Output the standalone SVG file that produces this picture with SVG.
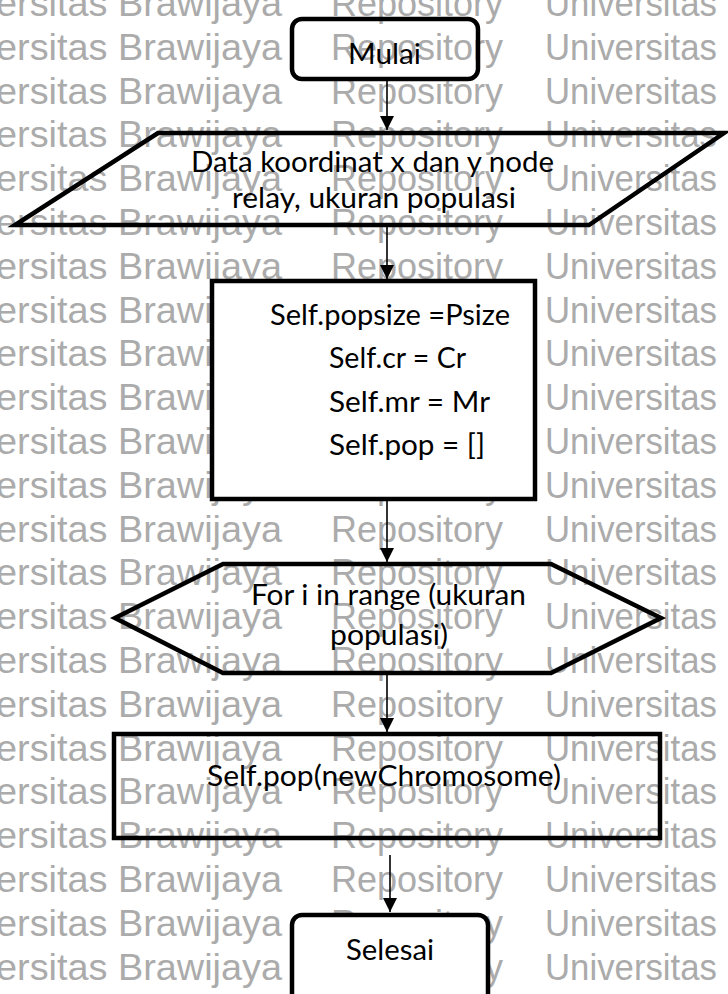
<svg xmlns="http://www.w3.org/2000/svg" xmlns:xlink="http://www.w3.org/1999/xlink" width="728" height="994" viewBox="0 0 728 994">
  <style>
    .wm { font-family: "Liberation Sans", Arial, sans-serif; font-size: 36px; fill: #ababab; }
    .shape { stroke: #000; stroke-width: 4.5; stroke-linejoin: miter; }
    .clear { fill: none; }
    .solid { fill: #fff; }
    .lbl { font-family: Lato, "Open Sans", sans-serif; font-size: 28px; fill: #000; }
    .conn { stroke: #000; stroke-width: 1.6; fill: none; }
  </style>
  <defs>
    <marker id="arrow" markerUnits="userSpaceOnUse" markerWidth="16" markerHeight="16" viewBox="0 0 16 16" refX="14" refY="8" orient="auto">
      <path d="M0,1 L14,8 L0,15 Z" fill="#000"/>
    </marker>
    <g id="wmrow">
      <text class="wm" x="-4" y="0" textLength="286" lengthAdjust="spacingAndGlyphs">ersitas Brawijaya</text>
      <text class="wm" x="331" y="0" textLength="172" lengthAdjust="spacingAndGlyphs">Repository</text>
      <text class="wm" x="545" y="0" textLength="172" lengthAdjust="spacingAndGlyphs">Universitas</text>
    </g>
  </defs>
  <rect x="0" y="0" width="728" height="994" fill="#fff"/>
  <g id="watermark">
    <use xlink:href="#wmrow" href="#wmrow" y="16"/>
    <use xlink:href="#wmrow" href="#wmrow" y="59.8"/>
    <use xlink:href="#wmrow" href="#wmrow" y="103.6"/>
    <use xlink:href="#wmrow" href="#wmrow" y="147.4"/>
    <use xlink:href="#wmrow" href="#wmrow" y="191.2"/>
    <use xlink:href="#wmrow" href="#wmrow" y="235"/>
    <use xlink:href="#wmrow" href="#wmrow" y="278.8"/>
    <use xlink:href="#wmrow" href="#wmrow" y="322.6"/>
    <use xlink:href="#wmrow" href="#wmrow" y="366.4"/>
    <use xlink:href="#wmrow" href="#wmrow" y="410.2"/>
    <use xlink:href="#wmrow" href="#wmrow" y="454"/>
    <use xlink:href="#wmrow" href="#wmrow" y="497.8"/>
    <use xlink:href="#wmrow" href="#wmrow" y="541.6"/>
    <use xlink:href="#wmrow" href="#wmrow" y="585.4"/>
    <use xlink:href="#wmrow" href="#wmrow" y="629.2"/>
    <use xlink:href="#wmrow" href="#wmrow" y="673"/>
    <use xlink:href="#wmrow" href="#wmrow" y="716.8"/>
    <use xlink:href="#wmrow" href="#wmrow" y="760.6"/>
    <use xlink:href="#wmrow" href="#wmrow" y="804.4"/>
    <use xlink:href="#wmrow" href="#wmrow" y="848.2"/>
    <use xlink:href="#wmrow" href="#wmrow" y="892"/>
    <use xlink:href="#wmrow" href="#wmrow" y="935.8"/>
    <use xlink:href="#wmrow" href="#wmrow" y="979.6"/>
  </g>

  <g id="connectors">
    <line class="conn" x1="387" y1="81" x2="387" y2="130" marker-end="url(#arrow)"/>
    <line class="conn" x1="387" y1="227" x2="387" y2="279" marker-end="url(#arrow)"/>
    <line class="conn" x1="387" y1="501" x2="387" y2="562" marker-end="url(#arrow)"/>
    <line class="conn" x1="387" y1="675" x2="387" y2="732" marker-end="url(#arrow)"/>
    <line class="conn" x1="390" y1="855" x2="390" y2="912" marker-end="url(#arrow)"/>
  </g>

  <g id="mulai">
    <rect class="shape clear" x="292" y="19" width="186" height="60" rx="10" ry="10"/>
    <text class="lbl" x="348" y="64" textLength="73" lengthAdjust="spacingAndGlyphs">Mulai</text>
  </g>

  <g id="input-data">
    <polygon class="shape clear" points="158,133 724,133 589,225 15,225"/>
    <text class="lbl" x="191" y="172" textLength="363" lengthAdjust="spacingAndGlyphs">Data koordinat x dan y node</text>
    <text class="lbl" x="232" y="208" textLength="284" lengthAdjust="spacingAndGlyphs">relay, ukuran populasi</text>
  </g>

  <g id="init-process">
    <rect class="shape solid" x="212" y="281" width="323" height="218"/>
    <text class="lbl" x="270" y="325" textLength="240" lengthAdjust="spacingAndGlyphs">Self.popsize =Psize</text>
    <text class="lbl" x="329" y="368" textLength="137" lengthAdjust="spacingAndGlyphs">Self.cr = Cr</text>
    <text class="lbl" x="329" y="412" textLength="161" lengthAdjust="spacingAndGlyphs">Self.mr = Mr</text>
    <text class="lbl" x="329" y="455" textLength="156" lengthAdjust="spacingAndGlyphs">Self.pop = []</text>
  </g>

  <g id="loop">
    <polygon class="shape clear" points="115,618 223,564 551,564 661,618 551,673 223,673"/>
    <text class="lbl" x="251" y="605" textLength="275" lengthAdjust="spacingAndGlyphs">For i in range (ukuran</text>
    <text class="lbl" x="330" y="645" textLength="118" lengthAdjust="spacingAndGlyphs">populasi)</text>
  </g>

  <g id="append-process">
    <rect class="shape clear" x="114" y="734" width="546" height="104"/>
    <text class="lbl" x="207" y="786" textLength="354" lengthAdjust="spacingAndGlyphs">Self.pop(newChromosome)</text>
  </g>

  <g id="selesai">
    <rect class="shape solid" x="292" y="915" width="196" height="88" rx="10" ry="10"/>
    <text class="lbl" x="346" y="960" textLength="88" lengthAdjust="spacingAndGlyphs">Selesai</text>
  </g>
</svg>
